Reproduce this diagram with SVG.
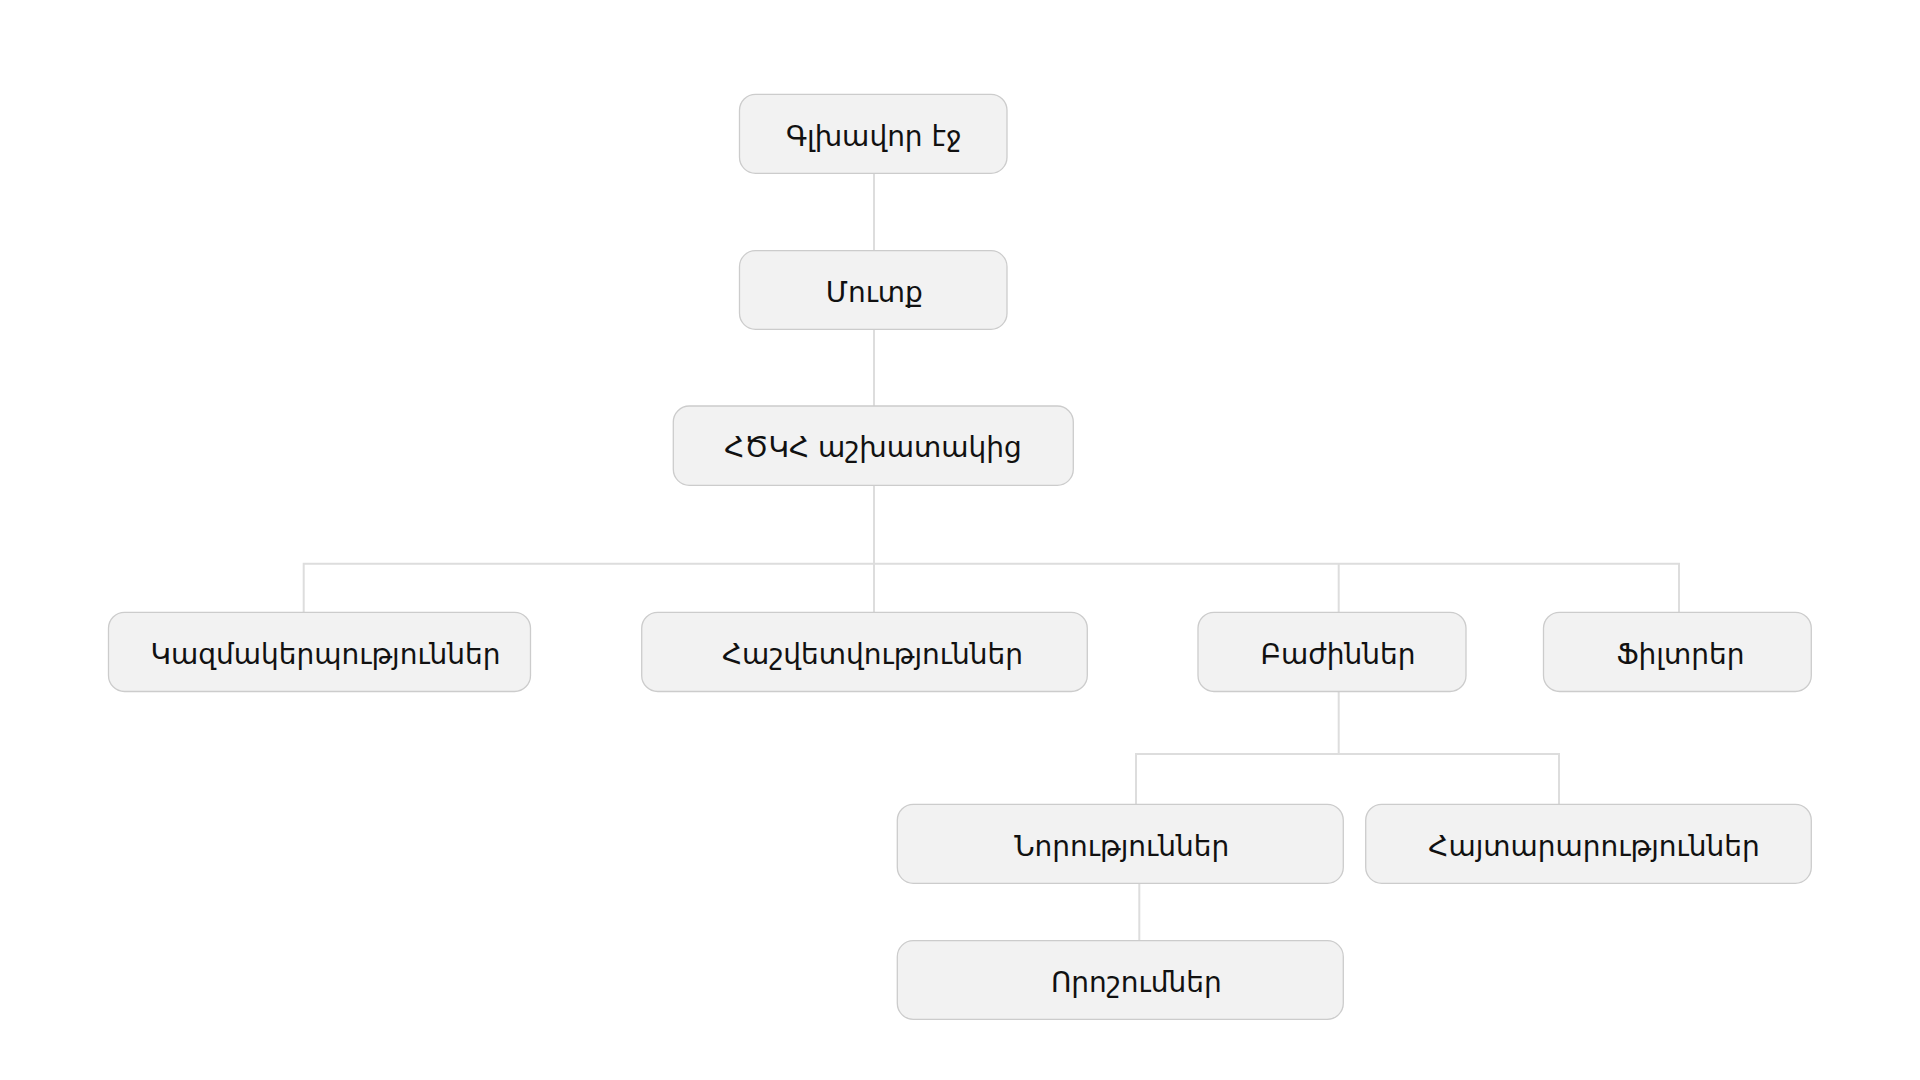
<svg xmlns="http://www.w3.org/2000/svg" width="1920" height="1080" viewBox="0 0 1920 1080">
<style>
.box{fill:#f2f2f2;stroke:#cccccc;stroke-width:1.3}
.lbl{font-family:"DejaVu Sans","Noto Sans",sans-serif;font-size:28px;fill:#111111;text-anchor:middle}
.con{fill:none;stroke:#dddddd;stroke-width:2}
</style>
<rect width="1920" height="1080" fill="#ffffff"/>
<g id="connectors" class="con">
<path d="M874 173.3V250.7"/>
<path d="M874 329.3V406"/>
<path d="M874 485.3V563.7M303.7 612.3V563.7H1679V612.3M874 563.7V612.3M1338.7 563.7V612.3"/>
<path d="M1338.7 691.5V754M1136 804.3V754H1559V804.3"/>
<path d="M1139.3 883.3V940.7"/>
</g>
<g id="n-glkhavor"><rect class="box" x="739.5" y="94.3" width="267.5" height="79" rx="16"/><text class="lbl" x="873.8" y="146">Գլխավոր էջ</text></g>
<g id="n-mutk"><rect class="box" x="739.5" y="250.7" width="267.5" height="78.6" rx="16"/><text class="lbl" x="874.3" y="302">Մուտք</text></g>
<g id="n-hcka"><rect class="box" x="673.3" y="406" width="400" height="79.3" rx="16"/><text class="lbl" x="873" y="457">ՀԾԿՀ աշխատակից</text></g>
<g id="n-kazm"><rect class="box" x="108.5" y="612.3" width="422" height="79.2" rx="16"/><text class="lbl" x="325.5" y="664">Կազմակերպություններ</text></g>
<g id="n-hashvet"><rect class="box" x="641.7" y="612.3" width="445.6" height="79.2" rx="16"/><text class="lbl" x="872.5" y="664">Հաշվետվություններ</text></g>
<g id="n-bazhin"><rect class="box" x="1198" y="612.3" width="268" height="79.2" rx="16"/><text class="lbl" x="1338" y="664">Բաժիններ</text></g>
<g id="n-filtrer"><rect class="box" x="1543.5" y="612.3" width="267.8" height="79.2" rx="16"/><text class="lbl" x="1680.4" y="664">Ֆիլտրեր</text></g>
<g id="n-norut"><rect class="box" x="897.3" y="804.3" width="446" height="79" rx="16"/><text class="lbl" x="1121.7" y="855.5">Նորություններ</text></g>
<g id="n-hayt"><rect class="box" x="1365.7" y="804.3" width="445.6" height="79" rx="16"/><text class="lbl" x="1594" y="855.5">Հայտարարություններ</text></g>
<g id="n-oroshum"><rect class="box" x="897.3" y="940.7" width="446" height="78.6" rx="16"/><text class="lbl" x="1136.3" y="992">Որոշումներ</text></g>
</svg>
